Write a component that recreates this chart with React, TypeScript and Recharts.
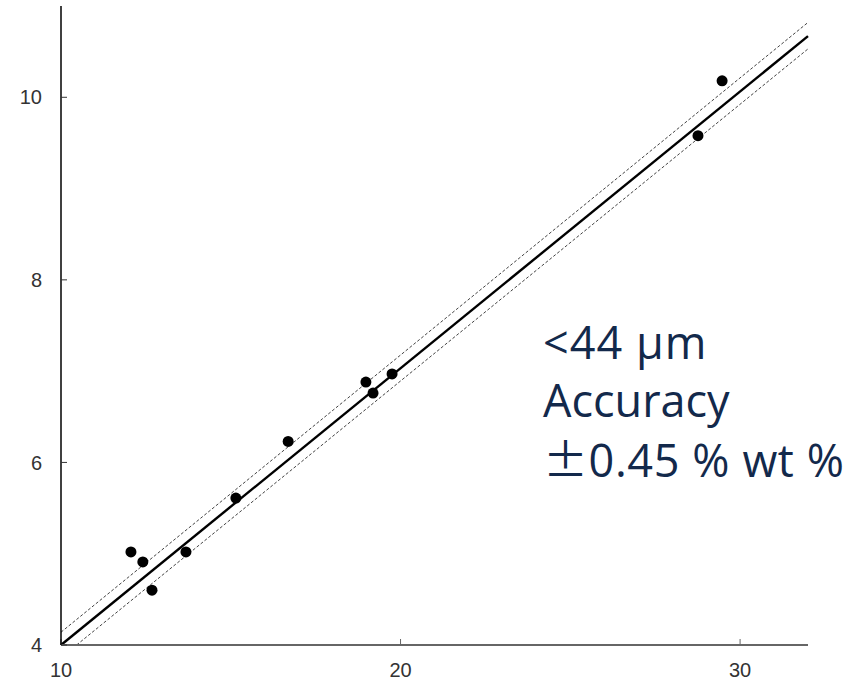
import React from "react";
import { ScatterChart, Scatter, XAxis, YAxis, ReferenceLine } from "recharts";

const xValues = [12.06, 12.41, 12.68, 13.68, 15.15, 16.69, 18.98, 19.19, 19.75, 28.76, 29.47];
const yValues = [5.02, 4.91, 4.6, 5.02, 5.61, 6.23, 6.88, 6.76, 6.97, 9.58, 10.18];
const xTicks = [10, 20, 30];
const yTicks = [4, 6, 8, 10];
const fitLine = [{ x: 10, y: 4 }, { x: 32, y: 10.67 }];
const upperLine = [{ x: 10, y: 4.14 }, { x: 32, y: 10.82 }];
const lowerLine = [{ x: 10.46, y: 4 }, { x: 32, y: 10.53 }];
const annotationLine1 = "<44 μm";
const annotationLine2 = "Accuracy";
const annotationPlusMinus = "±";
const annotationLine3 = "0.45 % wt %";

const points = xValues.map((x, i) => ({ x, y: yValues[i] }));

const tickStyle = { fill: "#333", fontSize: 20, fontFamily: "Liberation Sans, Arial, sans-serif" };

export default function App() {
  return (
    <div style={{ position: "absolute", left: 0, top: 0, width: 853, height: 683, background: "#fff" }}>
      <ScatterChart width={853} height={683} margin={{ top: 6, right: 45, bottom: 0, left: 0 }}>
        <XAxis
          type="number"
          dataKey="x"
          domain={[10, 32]}
          ticks={xTicks}
          allowDataOverflow
          tickSize={-6}
          tickMargin={24}
          axisLine={{ stroke: "#666", strokeWidth: 2 }}
          tickLine={{ stroke: "#666" }}
          tick={tickStyle}
          height={38}
        />
        <YAxis
          type="number"
          dataKey="y"
          domain={[4, 11]}
          ticks={yTicks}
          allowDataOverflow
          tickSize={-6}
          tickMargin={25}
          width={61}
          axisLine={{ stroke: "#000", strokeWidth: 1.5 }}
          tickLine={{ stroke: "#333" }}
          tick={tickStyle}
        />
        <ReferenceLine segment={upperLine} stroke="#444" strokeWidth={1} strokeDasharray="3 2" ifOverflow="visible" />
        <ReferenceLine segment={lowerLine} stroke="#444" strokeWidth={1} strokeDasharray="3 2" ifOverflow="visible" />
        <ReferenceLine segment={fitLine} stroke="#000" strokeWidth={2.4} ifOverflow="visible" />
        <Scatter data={points} fill="#000" isAnimationActive={false} shape={(p: any) => <circle cx={p.cx} cy={p.cy} r={5.5} fill="#000" />} />
      </ScatterChart>
      <div
        style={{
          position: "absolute",
          left: 543,
          top: 313,
          fontFamily: "'Open Sans', 'Noto Sans', sans-serif",
          fontSize: 45,
          lineHeight: "58px",
          color: "#13294b",
          whiteSpace: "nowrap",
        }}
      >
        <div style={{ letterSpacing: 1 }}>{annotationLine1}</div>
        <div>{annotationLine2}</div>
        <div style={{ letterSpacing: 0.6 }}>
          <span style={{ fontFamily: "'Noto Sans CJK KR', sans-serif" }}>{annotationPlusMinus}</span>
          {annotationLine3}
        </div>
      </div>
    </div>
  );
}
